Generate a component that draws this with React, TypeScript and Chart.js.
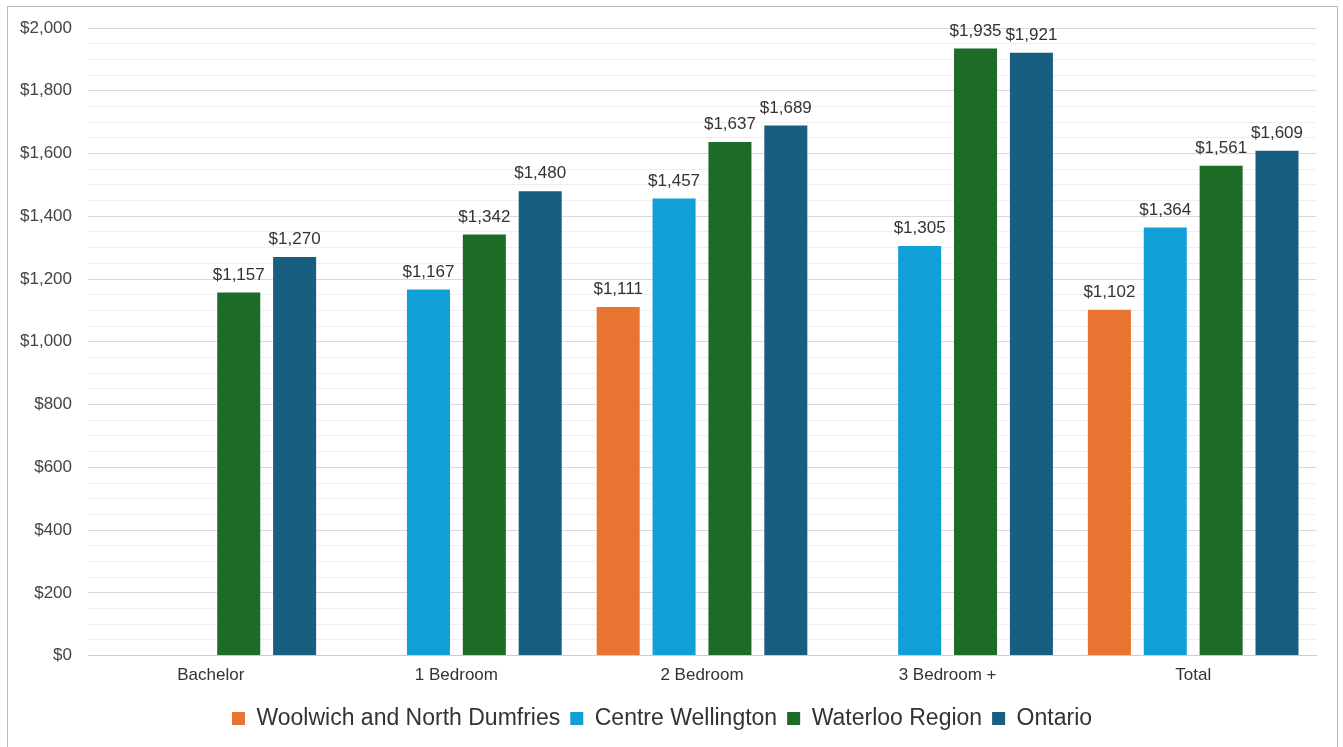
import React, { useEffect, useRef } from "react";
import { Chart, registerables } from "chart.js";

Chart.register(...registerables);

const categories = ["Bachelor", "1 Bedroom", "2 Bedroom", "3 Bedroom +", "Total"];
const woolwich = [null, null, 1111, null, 1102];
const centreWellington = [null, 1167, 1457, 1305, 1364];
const waterloo = [1157, 1342, 1637, 1935, 1561];
const ontario = [1270, 1480, 1689, 1921, 1609];
const seriesNames = ["Woolwich and North Dumfries", "Centre Wellington", "Waterloo Region", "Ontario"];
const seriesColors = ["#E87431", "#109FD7", "#1C6B26", "#175E81"];
const yMax = 2000;
const yStep = 50;
const yLabelStep = 200;

const FONT = "'Liberation Sans', Arial, sans-serif";

const fmt = (v: number) => "$" + v.toLocaleString("en-US");

const labelPlugin = {
  id: "barLabels",
  afterDatasetsDraw(chart: any) {
    const ctx = chart.ctx;
    ctx.save();
    ctx.font = `17px ${FONT}`;
    ctx.fillStyle = "#333333";
    ctx.textAlign = "center";
    ctx.textBaseline = "bottom";
    chart.data.datasets.forEach((ds: any, i: number) => {
      const meta = chart.getDatasetMeta(i);
      meta.data.forEach((el: any, j: number) => {
        const v = ds.data[j];
        if (v === null || v === undefined) return;
        ctx.fillText(fmt(v), el.x, el.y - 9);
      });
    });
    ctx.restore();
  },
};

export default function App() {
  const ref = useRef<HTMLCanvasElement>(null);
  useEffect(() => {
    if (!ref.current) return;
    Chart.defaults.font.family = FONT;
    const data = [woolwich, centreWellington, waterloo, ontario];
    const chart = new Chart(ref.current, {
      type: "bar",
      data: {
        labels: categories,
        datasets: seriesNames.map((name, i) => ({
          label: name,
          data: data[i],
          backgroundColor: seriesColors[i],
          borderWidth: 0,
          barPercentage: 0.77,
          categoryPercentage: 0.91,
        })),
      },
      options: {
        responsive: false,
        animation: false,
        layout: { padding: { left: 0, right: 21, top: 21, bottom: 12 } },
        plugins: {
          tooltip: { enabled: false },
          legend: {
            position: "bottom",
            labels: {
              font: { size: 23 },
              color: "#333333",
              boxWidth: 13,
              boxHeight: 13,
              padding: 10,
            },
          },
        },
        scales: {
          x: {
            grid: { display: false },
            border: { color: "#cccccc" },
            ticks: { font: { size: 17 }, color: "#333333", padding: 2 },
            afterFit: (s: any) => {
              s.height += 9;
            },
          },
          y: {
            min: 0,
            max: yMax,
            border: { display: false },
            grid: {
              drawTicks: false,
              color: (c: any) => (c.tick && c.tick.value % yLabelStep === 0 ? "#d9d9d9" : "#efefef"),
            },
            ticks: {
              stepSize: yStep,
              autoSkip: false,
              padding: 16,
              font: { size: 17 },
              color: "#444444",
              callback: (v: any) => (v % yLabelStep === 0 ? fmt(v) : ""),
            },
            afterFit: (s: any) => {
              s.width = 80;
              s.paddingTop = 0;
            },
          },
        },
      },
      plugins: [labelPlugin],
    });
    return () => chart.destroy();
  }, []);
  return (
    <div
      style={{
        position: "absolute",
        left: 7,
        top: 6,
        width: 1329,
        height: 745,
        border: "1px solid #bbbbbb",
        background: "#fff",
      }}
    >
      <canvas ref={ref} width={1329} height={745} />
    </div>
  );
}
